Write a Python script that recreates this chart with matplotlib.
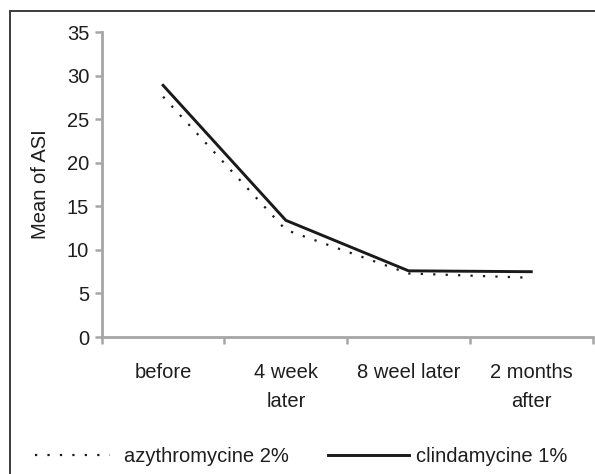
import matplotlib
matplotlib.use("Agg")
import matplotlib.pyplot as plt
from matplotlib.lines import Line2D
from matplotlib.patches import Rectangle

plt.rcParams["font.family"] = ["Liberation Sans", "DejaVu Sans"]

categories = ["before", "4 week\nlater", "8 weel later", "2 months\nafter"]
azythromycine = [27.6, 12.3, 7.3, 6.8]
clindamycine = [28.9, 13.4, 7.6, 7.5]
yticks = [0, 5, 10, 15, 20, 25, 30, 35]

AX_GREY = "#a6a6a6"
TXT = "#1e1e1e"
FS = 14.5

fig = plt.figure(figsize=(5.95, 4.74), dpi=100)
ax = fig.add_axes([0.171, 0.289, 0.825, 0.643])

x = list(range(len(categories)))
ax.plot(x, azythromycine, color="#1a1a1a", lw=1.6, linestyle=(0, (1, 4.6)))
ax.plot(x, clindamycine, color="#1a1a1a", lw=2.1)

ax.set_xlim(-0.5, len(categories) - 0.5)
ax.set_ylim(0, 35)
ax.set_yticks(yticks)
ax.set_xticks(x)
ax.set_xticklabels(categories, fontsize=FS, color=TXT, linespacing=1.65, va="top")
ax.set_xticks([i - 0.5 for i in range(len(categories) + 1)], minor=True)
ax.tick_params(axis="x", which="major", length=0, pad=19)
ax.tick_params(axis="x", which="minor", length=5, width=1.8, color=AX_GREY, direction="out")
ax.tick_params(axis="y", length=5, width=1.8, color=AX_GREY, labelsize=FS,
               labelcolor=TXT, pad=4)
for s in ("top", "right"):
    ax.spines[s].set_visible(False)
for s in ("left", "bottom"):
    ax.spines[s].set_color(AX_GREY)
    ax.spines[s].set_linewidth(2)
ax.set_ylabel("Mean of ASI", fontsize=FS, color=TXT, labelpad=12)

# legend
h1 = Line2D([], [], color="#1a1a1a", lw=1.6, linestyle=(0, (1, 4.6)))
h2 = Line2D([], [], color="#1a1a1a", lw=2.1)
leg1 = fig.legend([h1], ["azythromycine 2%"], loc="center left",
                  bbox_to_anchor=(35 / 595, 0.036), frameon=False, fontsize=FS,
                  handlelength=3.7, handletextpad=0.7, borderaxespad=0,
                  borderpad=0)
leg2 = fig.legend([h2], ["clindamycine 1%"], loc="center left",
                  bbox_to_anchor=(328 / 595, 0.036), frameon=False, fontsize=FS,
                  handlelength=4.0, handletextpad=0.35, borderaxespad=0,
                  borderpad=0)
for lg in (leg1, leg2):
    for t in lg.get_texts():
        t.set_color(TXT)

# outer frame (left and top edges visible)
fig.add_artist(Rectangle((10 / 595, -0.1), 1.2, 1 - 11 / 474 + 0.1,
                         transform=fig.transFigure, fill=False,
                         edgecolor="#3c3c3c", lw=1.4))

fig.savefig("out.png", dpi=100)
